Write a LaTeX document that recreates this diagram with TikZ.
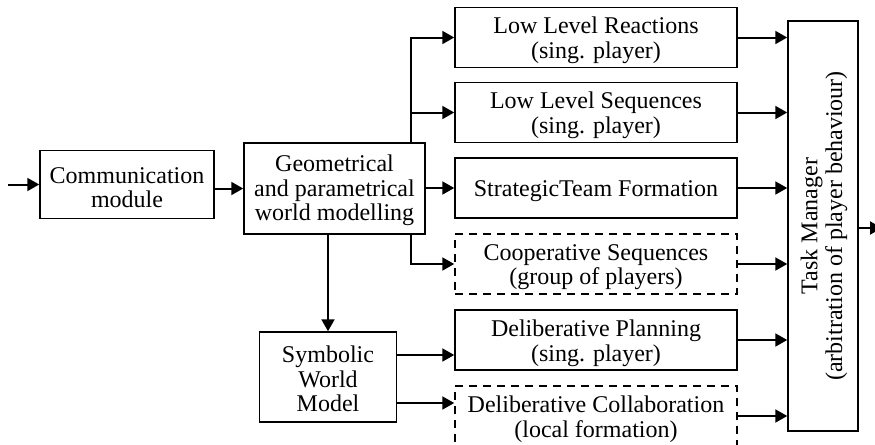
\documentclass[tikz,border=0pt]{standalone}
\usepackage{fontspec}
\setmainfont{Liberation Serif}
\usetikzlibrary{arrows.meta}
\begin{document}
\begin{tikzpicture}[x=0.5pt,y=-0.5pt,
  box/.style={draw,line width=0.75pt,inner sep=0pt},
  dbox/.style={box,dashed,dash pattern=on 4pt off 3pt},
  txt/.style={align=center,inner sep=0pt,font=\fontsize{12}{12.3}\selectfont},
  arr/.style={line width=1pt,-{Triangle[length=6pt,width=6.5pt]}}]
\clip (0,0) rectangle (875,445);
\useasboundingbox (0,0) rectangle (875,445);
\node[box,minimum width=87pt,minimum height=34pt] (comm) at (127,184.5) {};
\node[box,minimum width=90.5pt,minimum height=45.5pt] (geo) at (334.5,188.5) {};
\node[box,minimum width=68.5pt,minimum height=45pt] (sym) at (328,377) {};
\node[box,minimum width=141pt,minimum height=30pt] (r1) at (596,37.5) {};
\node[box,minimum width=141pt,minimum height=30pt] (r2) at (596,112.5) {};
\node[box,minimum width=141pt,minimum height=30pt] (r3) at (596,188) {};
\node[dbox,minimum width=141pt,minimum height=30pt] (r4) at (596,264) {};
\node[box,minimum width=141pt,minimum height=30pt] (r5) at (596,340) {};
\node[dbox,minimum width=141pt,minimum height=30pt] (r6) at (596,416) {};
\node[box,minimum width=35pt,minimum height=205pt] (tm) at (823,226) {};
\node[txt] (tcomm) at ([yshift=-1.5pt]comm.center) {Communication\\module};
\node[txt] (tgeo) at ([yshift=-1pt]geo.center) {Geometrical\\and parametrical\\world modelling};
\node[txt] (tsym) at ([yshift=-1pt]sym.center) {Symbolic\\World\\Model};
\node[txt] (t1) at ([yshift=-1.5pt]r1.center) {Low Level Reactions\\(sing. player)};
\node[txt] (t2) at ([yshift=-1.5pt]r2.center) {Low Level Sequences\\(sing. player)};
\node[txt] (t3) at ([yshift=-1.5pt]r3.center) {StrategicTeam Formation};
\node[txt] (t4) at ([yshift=-1.5pt]r4.center) {Cooperative Sequences\\(group of players)};
\node[txt] (t5) at ([yshift=-1.5pt]r5.center) {Deliberative Planning\\(sing. player)};
\node[txt] (t6) at ([yshift=-1.5pt]r6.center) {Deliberative Collaboration\\(local formation)};
\node[txt,rotate=90] (ttm) at ([xshift=0.5pt]tm.center) {Task Manager\\(arbitration of player behaviour)};
\coordinate (in) at (8,184.5);
\coordinate (out) at (882,228);
\coordinate (bt) at (411,143);
\coordinate (bb) at (411,234);
\coordinate (s1) at (396,355);
\coordinate (s2) at (396,403);
\draw[arr] (in) -- (comm.west);
\draw[arr] (comm.east |- geo) -- (geo.west);
\draw[arr] (bt) |- (r1.west);
\draw[arr] (bt |- r2) -- (r2.west);
\draw[arr] (geo.east |- r3) -- (r3.west);
\draw[arr] (bb) |- (r4.west);
\draw[arr] (geo.south -| sym.north) -- (sym.north);
\draw[arr] (s1) -- (s1 -| r5.west);
\draw[arr] (s2) -- (s2 -| r6.west);
\foreach \r in {r1,r2,r3,r4,r5,r6}{\draw[arr] (\r.east) -- (\r.east -| tm.west);}
\draw[arr] (tm.east |- out) -- (out);
\end{tikzpicture}
\end{document}
